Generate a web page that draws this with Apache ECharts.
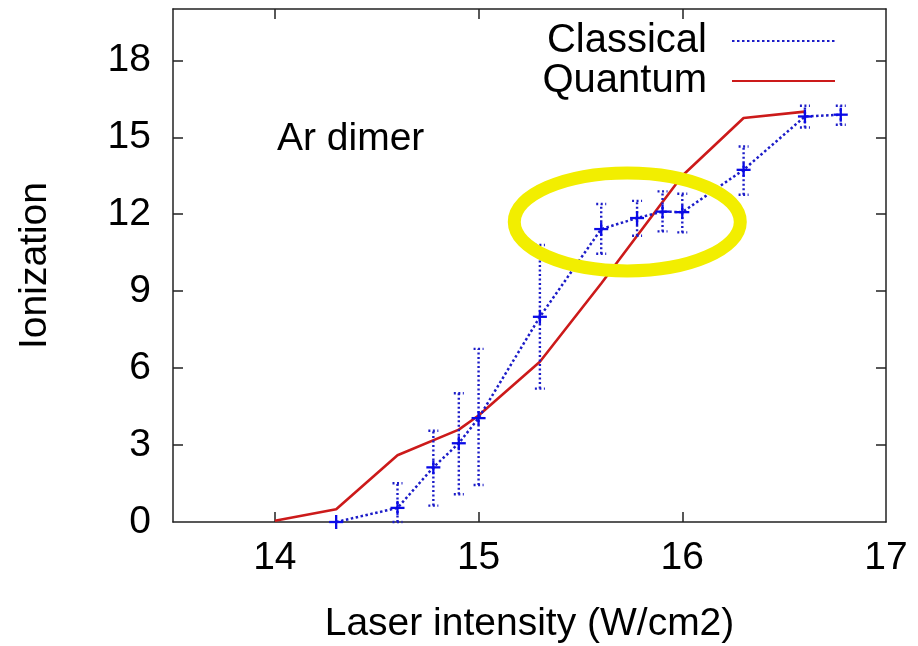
<!DOCTYPE html>
<html>
<head>
<meta charset="utf-8">
<script src="https://cdn.jsdelivr.net/npm/echarts@6/dist/echarts.min.js"></script>
<style>
html,body{margin:0;padding:0;background:#fff;}
#main{width:918px;height:646px;}
</style>
</head>
<body>
<div id="main"></div>
<script>
// ---- data ----
const xTicks = [14, 15, 16, 17];
const yTicks = [0, 3, 6, 9, 12, 15, 18];

const quantumX = [14, 14.301, 14.602, 14.903, 15, 15.301, 15.602, 16, 16.301, 16.602];
const quantumY = [0.05, 0.5, 2.6, 3.6, 4.15, 6.25, 9.3, 13.5, 15.75, 16.0];

const classicalX    = [14.301, 14.602, 14.778, 14.903, 15, 15.301, 15.602, 15.778, 15.903, 16, 16.301, 16.602, 16.778];
const classicalY    = [0, 0.55, 2.13, 3.07, 4.05, 8.0, 11.42, 11.85, 12.1, 12.08, 13.73, 15.81, 15.88];
const classicalLow  = [0, 0, 0.64, 1.08, 1.44, 5.2, 10.46, 11.16, 11.33, 11.29, 12.76, 15.38, 15.49];
const classicalHigh = [0, 1.51, 3.56, 5.02, 6.75, 10.8, 12.4, 12.52, 12.89, 12.8, 14.64, 16.23, 16.23];

const annotationText = 'Ar dimer';
const xName = 'Laser intensity (W/cm2)';
const yName = 'Ionization';

// ---- build ----
const FONT = '"Liberation Sans", Arial, Helvetica, sans-serif';
const BLUE = '#1c1cc8';
const RED = '#cc1a1a';
const AXIS = '#222';

const quantumData = quantumX.map((x, i) => [x, quantumY[i]]);
const classicalData = classicalX.map((x, i) => [x, classicalY[i]]);
const errData = classicalX.map((x, i) => [x, classicalY[i], classicalLow[i], classicalHigh[i]]);

const chart = echarts.init(document.getElementById('main'), null, {renderer: 'canvas'});

function tick(values) {
  return {show: true, inside: true, length: 10, customValues: values, lineStyle: {color: AXIS, width: 1.5}};
}
const lineStyleAxis = {show: true, onZero: false, lineStyle: {color: AXIS, width: 1.5}};

const option = {
  backgroundColor: '#fff',
  animation: false,
  grid: {left: 173, top: 9, right: 32, bottom: 124, show: false, containLabel: false, outerBoundsMode: 'none'},
  legend: {
    orient: 'vertical',
    right: 77,
    top: 16,
    align: 'right',
    itemWidth: 103,
    itemHeight: 14,
    itemGap: 0,
    itemStyle: {opacity: 0},
    textStyle: {fontFamily: FONT, fontSize: 40, color: '#000', lineHeight: 36, padding: [0, 20, 0, 0]},
    data: ['Classical', 'Quantum']
  },
  xAxis: [{
    type: 'value', min: 13.5, max: 17,
    name: xName, nameLocation: 'middle', nameGap: 83,
    nameTextStyle: {fontFamily: FONT, fontSize: 39, color: '#000'},
    axisLine: lineStyleAxis,
    axisTick: tick([14, 15, 16]),
    axisLabel: {customValues: xTicks, fontFamily: FONT, fontSize: 39, color: '#000', margin: 17},
    splitLine: {show: false}
  }, {
    type: 'value', min: 13.5, max: 17, position: 'top',
    axisLine: lineStyleAxis,
    axisTick: tick([14, 15, 16]),
    axisLabel: {show: false},
    splitLine: {show: false}
  }],
  yAxis: [{
    type: 'value', min: 0, max: 20,
    name: yName, nameLocation: 'middle', nameGap: 118, nameRotate: 90,
    nameTextStyle: {fontFamily: FONT, fontSize: 39, color: '#000'},
    axisLine: lineStyleAxis,
    axisTick: tick([3, 6, 9, 12, 15, 18]),
    axisLabel: {customValues: yTicks, fontFamily: FONT, fontSize: 39, color: '#000', margin: 22},
    splitLine: {show: false}
  }, {
    type: 'value', min: 0, max: 20, position: 'right',
    axisLine: lineStyleAxis,
    axisTick: tick([3, 6, 9, 12, 15, 18]),
    axisLabel: {show: false},
    splitLine: {show: false}
  }],
  series: [{
    name: 'Classical',
    type: 'line',
    data: classicalData,
    symbol: 'none',
    z: 3,
    lineStyle: {color: BLUE, width: 2.5, type: [2.5, 2.5]},
    itemStyle: {color: BLUE}
  }, {
    name: 'Quantum',
    type: 'line',
    data: quantumData,
    symbol: 'none',
    z: 2,
    lineStyle: {color: RED, width: 2.6, type: 'solid'},
    itemStyle: {color: RED}
  }, {
    name: 'ClassicalErr',
    type: 'custom',
    data: errData,
    z: 4,
    clip: false,
    renderItem: function (params, api) {
      const x = api.value(0), y = api.value(1), lo = api.value(2), hi = api.value(3);
      const p = api.coord([x, y]);
      const pl = api.coord([x, lo]);
      const ph = api.coord([x, hi]);
      const dotted = {stroke: BLUE, lineWidth: 2.4, lineDash: [2, 2.5], fill: null};
      const solid = {stroke: '#0a0ae6', lineWidth: 2.3, fill: null};
      const children = [];
      if (hi > lo) {
        children.push({type: 'line', shape: {x1: pl[0], y1: pl[1], x2: ph[0], y2: ph[1]}, style: dotted});
        children.push({type: 'line', shape: {x1: pl[0] - 5, y1: pl[1], x2: pl[0] + 5, y2: pl[1]}, style: dotted});
        children.push({type: 'line', shape: {x1: ph[0] - 5, y1: ph[1], x2: ph[0] + 5, y2: ph[1]}, style: dotted});
      }
      children.push({type: 'line', shape: {x1: p[0] - 7, y1: p[1], x2: p[0] + 7, y2: p[1]}, style: solid});
      children.push({type: 'line', shape: {x1: p[0], y1: p[1] - 7, x2: p[0], y2: p[1] + 7}, style: solid});
      return {type: 'group', children: children};
    }
  }]
};

chart.setOption(option);

// annotation: label and highlight ellipse
const c = chart.convertToPixel({xAxisIndex: 0, yAxisIndex: 0}, [15.73, 11.7]);
chart.setOption({
  graphic: [{
    type: 'text', left: 277, top: 120, z: 10,
    style: {text: annotationText, fontFamily: FONT, fontSize: 39, fill: '#000'}
  }, {
    type: 'ellipse', z: 20,
    shape: {cx: c[0], cy: c[1], rx: 113, ry: 49},
    style: {fill: null, stroke: '#f2ee00', lineWidth: 13}
  }]
});
</script>
</body>
</html>
